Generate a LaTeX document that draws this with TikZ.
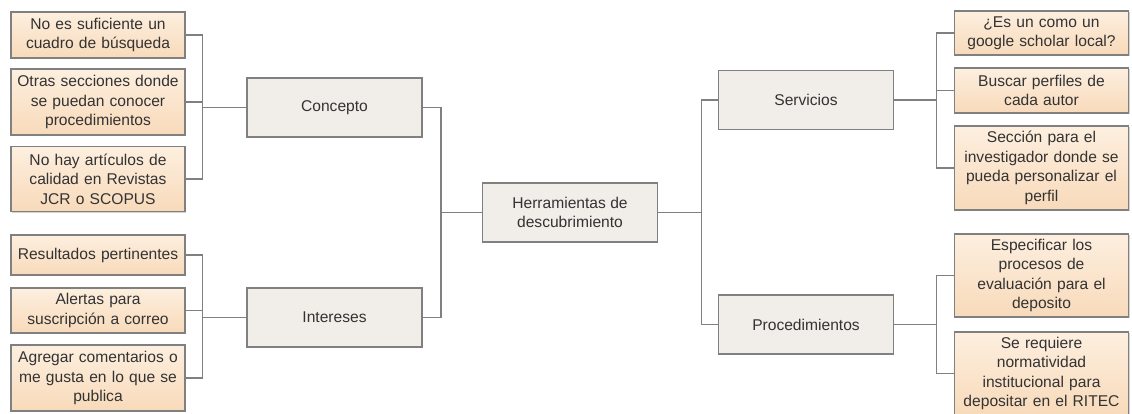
\documentclass[tikz,border=0pt]{standalone}
\usepackage{fontspec}
\setmainfont{Liberation Sans}
\usepackage{xcolor}
\usepackage{tikz}
\usetikzlibrary{positioning, calc, shadows}

\definecolor{leaftop}{HTML}{FDEFDF}
\definecolor{leafbot}{HTML}{F8DABA}
\definecolor{mainfill}{HTML}{F1EDE8}
\definecolor{edgegray}{HTML}{808080}
\definecolor{textgray}{HTML}{333333}

\begin{document}
\begin{tikzpicture}[
    x=1pt, y=-1pt,
    topic/.style={
        rectangle, draw=edgegray, line width=1.2pt, fill=mainfill,
        minimum width=175pt, minimum height=59pt,
        align=center, text=textgray,
        font=\fontsize{15.6}{19.5}\selectfont
    },
    leaf/.style={
        rectangle, draw=edgegray, line width=1.2pt,
        top color=leaftop, bottom color=leafbot,
        drop shadow={shadow xshift=1.2pt, shadow yshift=-1.2pt, opacity=0.35},
        text width=172pt, inner sep=1pt,
        align=center, text=textgray,
        font=\fontsize{15.6}{19.5}\selectfont
    },
    link/.style={draw=edgegray, line width=1.2pt}
]
\useasboundingbox (0,0) rectangle (1132,413);

% 1. Root (center)
\node[topic] (herr) at (570, 212.5) {Herramientas de\\descubrimiento};

% 2. Main branches
\node[topic] (concepto) at (334.5, 107.5) {Concepto};
\node[topic] (intereses) at (334.5, 317.5) {Intereses};
\node[topic] (servicios) at (806, 100) {Servicios};
\node[topic] (procedimientos) at (806, 324.5) {Procedimientos};

% 3. Leaves on the left
\node[leaf, minimum height=46pt] (suficiente) at (98, 35) {No es suficiente un\\cuadro de búsqueda};
\node[leaf, minimum height=66pt] (secciones) at (98, 102) {Otras secciones donde\\se puedan conocer\\procedimientos};
\node[leaf, minimum height=65pt] (articulos) at (98, 179) {No hay artículos de\\calidad en Revistas\\JCR o SCOPUS};
\node[leaf, minimum height=40pt] (resultados) at (98, 255) {Resultados pertinentes};
\node[leaf, minimum height=45pt] (alertas) at (98, 310.5) {Alertas para\\suscripción a correo};
\node[leaf, minimum height=66pt] (comentarios) at (98, 378) {Agregar comentarios o\\me gusta en lo que se\\publica};

% 4. Leaves on the right
\node[leaf, minimum height=44pt] (scholar) at (1041.5, 33) {¿Es un como un\\google scholar local?};
\node[leaf, minimum height=45pt] (perfiles) at (1041.5, 90.5) {Buscar perfiles de\\cada autor};
\node[leaf, minimum height=84pt] (seccion) at (1041.5, 168) {Sección para el\\investigador donde se\\pueda personalizar el\\perfil};
\node[leaf, minimum height=83pt] (especificar) at (1041.5, 275.5) {Especificar los\\procesos de\\evaluación para el\\deposito};
\node[leaf, minimum height=83pt] (normatividad) at (1041.5, 373.5) {Se requiere\\normatividad\\institucional para\\depositar en el RITEC};

% 5. Brackets
\draw[link] (herr.west) -- ++(-41,0) |- (concepto.east);
\draw[link] (herr.west) -- ++(-41,0) |- (intereses.east);
\draw[link] (herr.east) -- ++(43,0) |- (servicios.west);
\draw[link] (herr.east) -- ++(43,0) |- (procedimientos.west);

\foreach \n in {suficiente, secciones, articulos}
    \draw[link] (concepto.west) -- ++(-44,0) |- (\n.east);
\foreach \n in {resultados, alertas, comentarios}
    \draw[link] (intereses.west) -- ++(-44,0) |- (\n.east);
\foreach \n in {scholar, perfiles, seccion}
    \draw[link] (servicios.east) -- ++(42,0) |- (\n.west);
\foreach \n in {especificar, normatividad}
    \draw[link] (procedimientos.east) -- ++(42,0) |- (\n.west);

\end{tikzpicture}
\end{document}
